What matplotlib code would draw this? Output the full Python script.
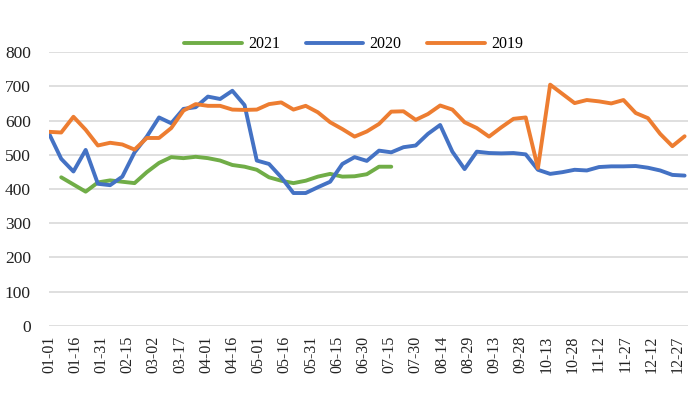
import matplotlib
matplotlib.use("Agg")
import matplotlib.pyplot as plt
import numpy as np

plt.rcParams['font.family'] = ['Liberation Serif', 'DejaVu Serif']

tick_labels = ["01-01", "01-16", "01-31", "02-15", "03-02", "03-17", "04-01", "04-16",
               "05-01", "05-16", "05-31", "06-15", "06-30", "07-15", "07-30", "08-14",
               "08-29", "09-13", "09-28", "10-13", "10-28", "11-12", "11-27", "12-12", "12-27"]

s2019 = [567, 565, 611, 573, 527, 535, 530, 515, 549, 549, 578, 629, 648, 643, 643, 632,
         631, 632, 648, 653, 632, 643, 624, 595, 575, 553, 568, 590, 626, 627, 602, 619,
         644, 632, 595, 578, 553, 580, 605, 609, 461, 705, 678, 651, 660, 656, 650, 660,
         622, 607, 561, 525, 554]

s2020 = [562, 488, 451, 514, 415, 411, 436, 507, 553, 609, 592, 634, 639, 670, 663, 687,
         645, 483, 473, 434, 388, 388, 405, 421, 473, 493, 482, 512, 507, 522, 527, 561,
         587, 509, 458, 509, 505, 504, 505, 501, 456, 444, 449, 456, 454, 464, 466, 466,
         467, 462, 454, 441, 439]

s2021 = [np.nan, 434, 413, 392, 419, 425, 421, 417, 449, 476, 493, 490, 494, 490, 483, 470,
         465, 456, 434, 424, 417, 424, 436, 444, 436, 437, 443, 465, 465]

days_2019 = np.arange(len(s2019)) * 7
days_2020 = np.arange(len(s2020)) * 7
days_2021 = np.arange(len(s2021)) * 7
tick_pos = np.arange(len(tick_labels)) * 15

fig = plt.figure(figsize=(7, 3.95), dpi=100)
ax = fig.add_axes([0.07, 0.1754, 0.913, 0.6926])

lw = 2.8
ax.plot(days_2021, s2021, color='#70AD47', lw=lw, label='2021', solid_capstyle='round', solid_joinstyle='round')
ax.plot(days_2020, s2020, color='#4472C4', lw=lw, label='2020', solid_capstyle='round', solid_joinstyle='round')
ax.plot(days_2019, s2019, color='#ED7D31', lw=lw, label='2019', solid_capstyle='round', solid_joinstyle='round')

ax.set_ylim(0, 800)
ax.set_yticks(np.arange(0, 801, 100))
ax.set_xlim(0, 366)
ax.set_xticks(tick_pos)
ax.set_xticklabels(tick_labels, rotation=90)

ax.grid(axis='y', color='#D9D9D9', lw=1.2)
ax.set_axisbelow(True)
for sp in ax.spines.values():
    sp.set_visible(False)
ax.tick_params(axis='both', length=0, colors='#222222')
ax.tick_params(axis='x', labelsize=11.5, pad=7)
ax.tick_params(axis='y', labelsize=12.5, pad=13)

leg = fig.legend(loc='center', bbox_to_anchor=(0.505, 0.888), ncol=3, frameon=False,
                 fontsize=11.5, handlelength=3.6, handletextpad=0.4, columnspacing=1.6)

fig.savefig('out.png', dpi=100)
